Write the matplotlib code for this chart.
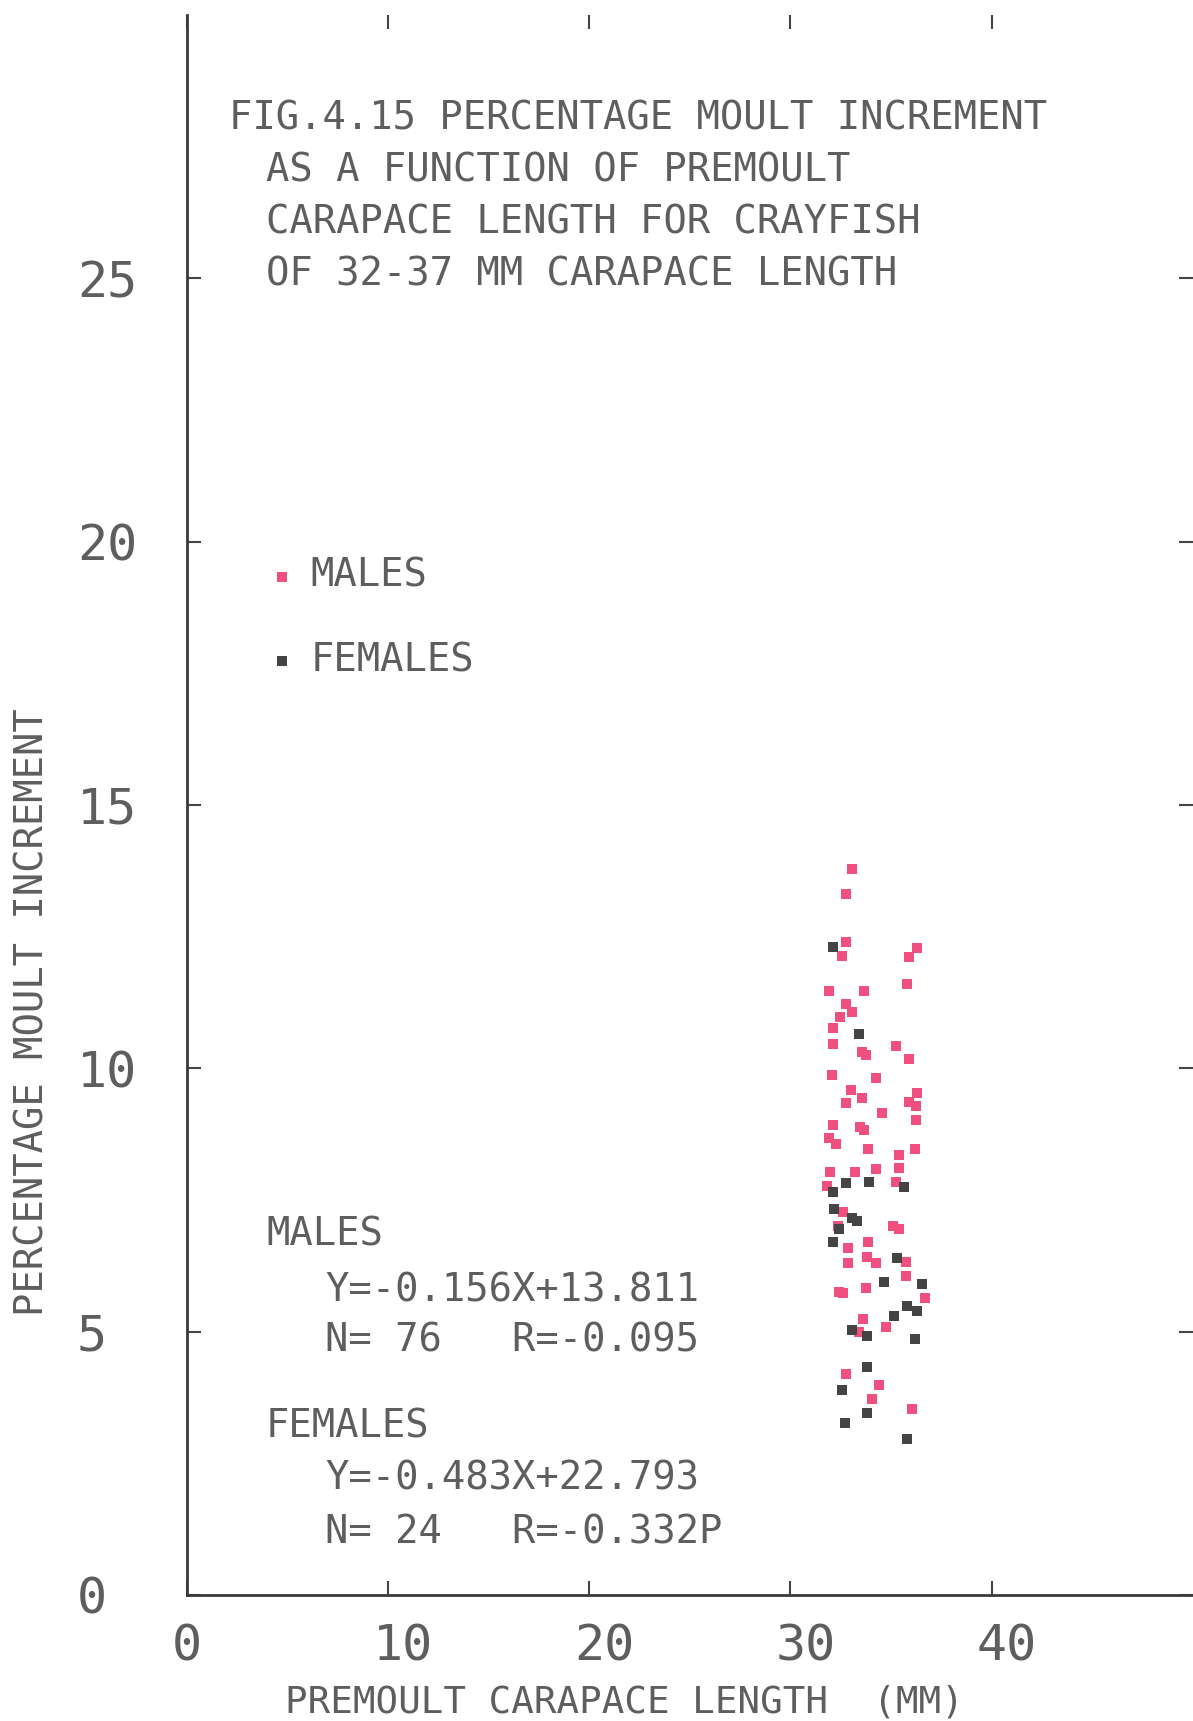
import numpy as np
import matplotlib
matplotlib.use("Agg")
import matplotlib.pyplot as plt
from matplotlib.transforms import ScaledTranslation

# --- data ---
male_x = [33.04, 32.75, 32.76, 36.27, 35.89, 32.58, 35.81, 31.93, 33.65, 32.75,
          33.07, 32.46, 32.13, 32.10, 35.25, 33.54, 33.75, 35.91, 32.05, 34.25,
          32.99, 36.30, 32.76, 33.54, 35.91, 36.24, 34.53, 36.24, 32.13, 33.46,
          33.65, 31.93, 32.26, 33.87, 36.19, 35.41, 31.97, 33.21, 34.25, 35.41,
          31.80, 35.25, 32.63, 32.38, 35.11, 35.41, 32.87, 33.87, 32.87, 33.79,
          34.25, 35.74, 35.74, 32.43, 32.63, 33.75, 36.69, 33.59, 34.75, 33.42,
          32.76, 34.42, 34.04, 36.02]
male_y = [13.79, 13.31, 12.39, 12.28, 12.12, 12.14, 11.61, 11.47, 11.47, 11.22,
          11.07, 10.98, 10.77, 10.47, 10.43, 10.31, 10.26, 10.18, 9.88, 9.82,
          9.58, 9.54, 9.35, 9.44, 9.37, 9.28, 9.16, 9.01, 8.92, 8.88,
          8.82, 8.68, 8.57, 8.47, 8.47, 8.36, 8.04, 8.04, 8.08, 8.10,
          7.77, 7.84, 7.27, 7.01, 7.01, 6.95, 6.59, 6.70, 6.30, 6.41,
          6.31, 6.33, 6.06, 5.75, 5.73, 5.83, 5.63, 5.25, 5.09, 4.99,
          4.19, 3.98, 3.73, 3.53]

female_x = [32.10, 33.42, 32.76, 33.92, 32.13, 35.64, 32.16, 33.04, 33.29, 32.43,
            32.13, 35.31, 34.65, 36.52, 35.81, 36.30, 35.15, 33.04, 33.79, 36.19,
            33.82, 32.55, 33.82, 32.71, 35.81]
female_y = [12.31, 10.65, 7.82, 7.85, 7.66, 7.74, 7.33, 7.15, 7.11, 6.95,
            6.71, 6.39, 5.95, 5.91, 5.48, 5.39, 5.29, 5.04, 4.92, 4.87,
            4.33, 3.89, 3.46, 3.26, 2.96]

x_ticks = [0, 10, 20, 30, 40]
y_ticks = [0, 5, 10, 15, 20, 25]

title_lines = ["FIG.4.15 PERCENTAGE MOULT INCREMENT",
               "AS A FUNCTION OF PREMOULT",
               "CARAPACE LENGTH FOR CRAYFISH",
               "OF 32-37 MM CARAPACE LENGTH"]

stats_lines = ["MALES",
               "Y=-0.156X+13.811",
               "N= 76   R=-0.095",
               "FEMALES",
               "Y=-0.483X+22.793",
               "N= 24   R=-0.332P"]

W, H = 1193, 1721
pink = "#f0507f"
dark = "#444444"
txt = "#5e5e5e"
mono = "DejaVu Sans Mono"
tick_fs = 36

fig = plt.figure(figsize=(W / 100, H / 100), dpi=100)
ax = fig.add_axes([186.7 / W, 1 - 1595 / H, (W - 186.7) / W, (1595 - 15) / H])

m = ax.scatter(male_x, male_y, marker="s", s=50, color=pink, lw=0, label="MALES")
f = ax.scatter(female_x, female_y, marker="s", s=50, color=dark, lw=0, label="FEMALES")

ax.set_xlim(0, 50)
ax.set_ylim(0, 30)
ax.set_xticks(x_ticks)
ax.set_yticks(y_ticks)

for s in ["top", "right"]:
    ax.spines[s].set_visible(False)
for s in ["left", "bottom"]:
    ax.spines[s].set_color("#3a3a3a")
    ax.spines[s].set_linewidth(2)

ax.tick_params(axis="both", direction="in", length=10, width=1.5, colors="#444444",
               labelcolor=txt, top=True, right=True)
ax.tick_params(axis="x", pad=20)
ax.tick_params(axis="y", pad=79)

# plotter style: first digit sits on the tick, y labels flush left
half = 0.301 * tick_fs / 72
for lab in ax.get_xticklabels():
    lab.set_fontfamily(mono)
    lab.set_fontsize(tick_fs)
    lab.set_horizontalalignment("left")
    lab.set_transform(lab.get_transform() + ScaledTranslation(-half, 0, fig.dpi_scale_trans))
for lab in ax.get_yticklabels():
    lab.set_fontfamily(mono)
    lab.set_fontsize(tick_fs)
    lab.set_horizontalalignment("left")

def px(x, y):
    return x / W, 1 - y / H

# title block
ys = [118.5, 170, 222.5, 274.5]
xs = [229, 266, 266, 266]
for i in range(len(title_lines)):
    fig.text(*px(xs[i], ys[i]), title_lines[i], family=mono, fontsize=28,
             color=txt, ha="left", va="center")

# statistics block
sy = [1234, 1291, 1340, 1426, 1478, 1532]
sx = [266, 325, 325, 266, 325, 325]
for i in range(len(stats_lines)):
    fig.text(*px(sx[i], sy[i]), stats_lines[i], family=mono, fontsize=28,
             color=txt, ha="left", va="center")

# legend
ax.legend(handles=[m, f], loc="center left", bbox_to_anchor=px(270, 618),
          bbox_transform=fig.transFigure, frameon=False, prop={"family": mono, "size": 28},
          labelcolor=txt, handlelength=0.6, handletextpad=0.45, labelspacing=1.19,
          borderpad=0, borderaxespad=0, markerscale=1.0)

fig.text(*px(33, 1012), "PERCENTAGE MOULT INCREMENT", family=mono, fontsize=28,
         color=txt, rotation=90, ha="center", va="center")
fig.text(*px(624, 1703), "PREMOULT CARAPACE LENGTH  (MM)", family=mono, fontsize=27,
         color=txt, ha="center", va="center")

fig.savefig("out.png", dpi=100, facecolor="white")
